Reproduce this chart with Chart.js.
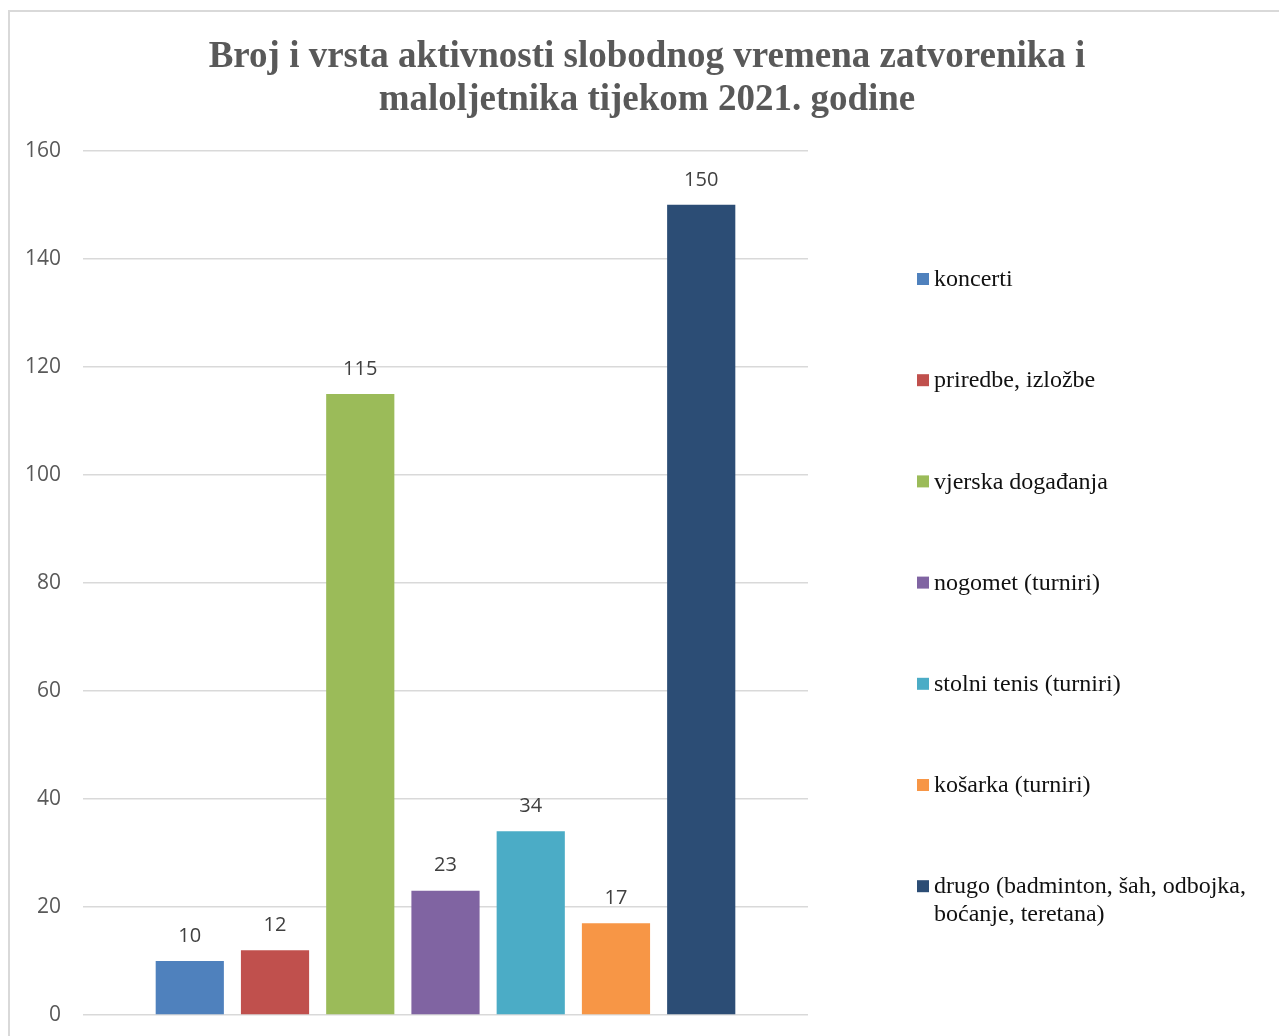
<!DOCTYPE html>
<html>
<head>
<meta charset="utf-8">
<script src="https://cdn.jsdelivr.net/npm/chart.js@4"></script>
<style>
  body { margin: 0; background: #fff; }
</style>
</head>
<body>
<canvas id="myChart" width="1279" height="1036"></canvas>
<script>
const titleLines = ['Broj i vrsta aktivnosti slobodnog vremena zatvorenika i', 'maloljetnika tijekom 2021. godine'];

const activities = [
    'koncerti',
    'priredbe, izložbe',
    'vjerska događanja',
    'nogomet (turniri)',
    'stolni tenis (turniri)',
    'košarka (turniri)',
    'drugo (badminton, šah, odbojka, boćanje, teretana)',
];

const counts = [10, 12, 115, 23, 34, 17, 150];

const colors = ['#4f81bd', '#c0504d', '#9bbb59', '#8064a2', '#4bacc6', '#f79646', '#2c4d75'];

const yTicks = [0, 20, 40, 60, 80, 100, 120, 140, 160];

const frame = {
    id: 'frame',
    beforeDraw(chart) {
        const c = chart.ctx;
        c.save();
        c.fillStyle = '#fff';
        c.fillRect(0, 0, chart.width, chart.height);
        c.strokeStyle = '#d9d9d9';
        c.lineWidth = 2;
        c.strokeRect(9, 11, chart.width + 20, chart.height + 20);
        c.restore();
    }
};

const valueLabels = {
    id: 'valueLabels',
    afterDatasetsDraw(chart) {
        const c = chart.ctx;
        c.save();
        c.font = '20px "Open Sans"';
        c.fillStyle = '#404040';
        c.textAlign = 'center';
        c.textBaseline = 'middle';
        chart.data.datasets.forEach((ds, i) => {
            const bar = chart.getDatasetMeta(i).data[0];
            c.fillText(ds.data[0], bar.x, bar.y - 25);
        });
        c.restore();
    }
};

const sideLegend = {
    id: 'sideLegend',
    afterDraw(chart) {
        const c = chart.ctx;
        const x = 917;
        let y = 279;
        c.save();
        c.font = '24px "Liberation Serif"';
        c.textBaseline = 'middle';
        chart.data.datasets.forEach((ds) => {
            c.fillStyle = ds.backgroundColor;
            c.fillRect(x, y - 6, 12, 12);

            // wrap long names
            const words = ds.label.split(' ');
            const lines = [];
            let line = '';
            words.forEach((w) => {
                const test = line ? line + ' ' + w : w;
                if (c.measureText(test).width > 320 && line) {
                    lines.push(line);
                    line = w;
                } else {
                    line = test;
                }
            });
            lines.push(line);

            c.fillStyle = '#111';
            lines.forEach((l, k) => {
                c.fillText(l, x + 17, y + 1 + k * 28);
            });
            y += 101.2;
        });
        c.restore();
    }
};

const ctx = document.getElementById('myChart');

const chart = new Chart(ctx, {
    type: 'bar',
    data: {
        labels: [''],
        datasets: activities.map((name, i) => ({
            label: name,
            data: [counts[i]],
            backgroundColor: colors[i],
            categoryPercentage: 0.823,
            barPercentage: 0.8,
        })),
    },
    options: {
        responsive: false,
        animation: false,
        devicePixelRatio: 1,
        layout: {
            padding: { left: 15, right: 0, top: 10, bottom: 21 }
        },
        plugins: {
            legend: { display: false },
            tooltip: { enabled: false },
            title: {
                display: true,
                text: titleLines,
                color: '#595959',
                font: { family: '"Liberation Serif"', size: 37, weight: 'bold', lineHeight: 1.16 },
                padding: { top: 26, bottom: 29 },
            },
        },
        scales: {
            x: { display: false },
            y: {
                min: 0,
                max: 160,
                afterBuildTicks: (scale) => {
                    scale.ticks = yTicks.map((v) => ({ value: v }));
                },
                afterFit: (scale) => { scale.width = 68; },
                // invisible tick marks give the label gap without extra vertical padding
                grid: { color: '#d9d9d9', lineWidth: 1.5, drawTicks: true, tickLength: 22, tickColor: 'rgba(0,0,0,0)' },
                border: { display: false },
                ticks: {
                    color: '#595959',
                    padding: 0,
                    font: { family: '"Open Sans"', size: 21 },
                },
            },
            side: {
                position: 'right',
                afterFit: (scale) => { scale.width = 471; },
                grid: { display: false },
                border: { display: false },
                ticks: { display: false },
            },
        },
    },
    plugins: [frame, valueLabels, sideLegend],
});
</script>
</body>
</html>
